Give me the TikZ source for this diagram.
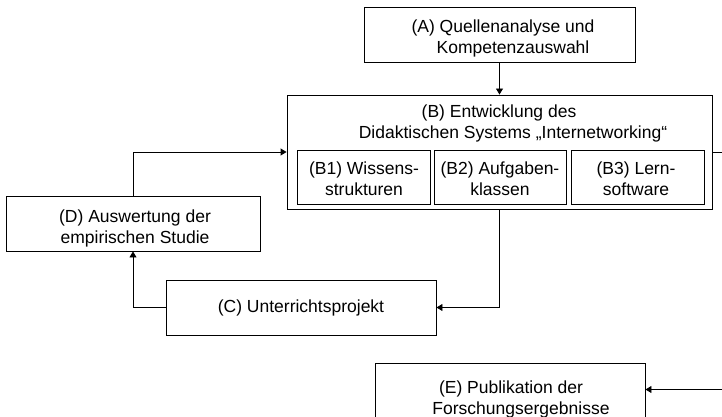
\documentclass[tikz,border=0pt]{standalone}
\usepackage{fontspec}
\setmainfont{Liberation Sans}
\usetikzlibrary{arrows.meta}
\begin{document}
\begin{tikzpicture}[x=1pt,y=-1pt,
  every node/.style={font=\fontsize{17.5}{21}\selectfont},
  box/.style={draw=black,line width=0.9pt,rectangle,inner sep=0pt,align=center},
  label/.style={inner sep=0pt,align=center},
  link/.style={draw=black,line width=0.9pt},
  arr/.style={link,-{Triangle[length=6pt,width=7pt]}}]
\useasboundingbox (0,0) rectangle (722,417);
\clip (0,0) rectangle (722,417);

% boxes
\node[box,minimum width=271pt,minimum height=55pt] (A) at (499.5,34.5) {};
\node[label] (Atext) at (503,38.5)
  {(A) Quellenanalyse und\\\hspace*{20pt}Kompetenzauswahl};

\node[box,minimum width=425pt,minimum height=114pt] (B) at (499.5,152) {};
\node[label] (Btext) at (499,123)
  {(B) Entwicklung des\\\hspace*{28pt}Didaktischen Systems „Internetworking“};

\node[box,minimum width=133pt,minimum height=54pt] (B1) at (363.5,177) {};
\node[box,minimum width=132pt,minimum height=54pt] (B2) at (500,177) {};
\node[box,minimum width=133pt,minimum height=54pt] (B3) at (637.5,177) {};
\node[label] (B1text) at (364,179) {(B1) Wissens-\\strukturen};
\node[label] (B2text) at (500,179) {(B2) Aufgaben-\\klassen};
\node[label] (B3text) at (636,179) {(B3) Lern-\\software};

\node[box,minimum width=254pt,minimum height=55pt] (D) at (133,223.5) {};
\node[label] (Dtext) at (135,228) {(D) Auswertung der\\empirischen Studie};

\node[box,minimum width=270pt,minimum height=55pt] (C) at (301,307.5) {(C) Unterrichtsprojekt};

\node[box,minimum width=270pt,minimum height=54pt] (E) at (510,390) {};
\node[label] (Etext) at (511,399)
  {(E) Publikation der\\\hspace*{20pt}Forschungsergebnisse};

% open ends at the right margin
\coordinate (Bout) at (722,152.5);
\coordinate (Ein) at (722,389.5);

% connectors
\draw[arr] (A.south) -- (B.north);
\draw[arr] (B.south) |- (C.east);
\draw[arr] (C.west) -| (D.south);
\draw[arr] (D.north) |- (B.west);
\draw[link] (Bout -| B.east) -- (Bout);
\draw[arr] (Ein) -- (Ein -| E.east);
\end{tikzpicture}
\end{document}
